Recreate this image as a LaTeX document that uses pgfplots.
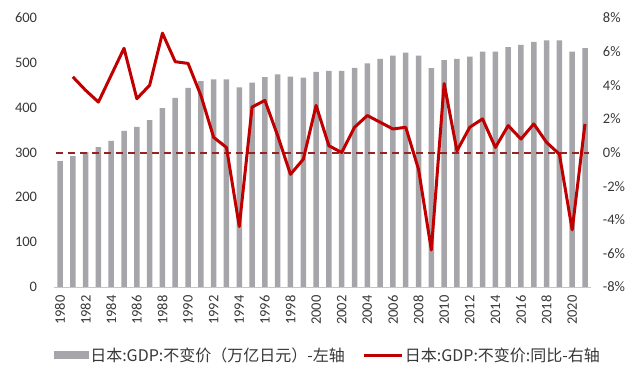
\documentclass[border=0pt]{standalone}
\usepackage{fontspec}
\setmainfont{Carlito}
\newfontfamily\cjk{Noto Sans CJK SC}
\usepackage{pgfplots}
\pgfplotsset{compat=1.18}
\definecolor{bargray}{RGB}{165,165,170}
\definecolor{linered}{RGB}{192,0,0}
\definecolor{dashred}{RGB}{150,35,35}
\definecolor{txt}{RGB}{55,55,55}
\begin{document}
\begin{tikzpicture}[x=1pt,y=1pt]
\path[use as bounding box] (0,0) rectangle (640,383);
\begin{axis}[
  at={(53.6pt,96pt)}, anchor=south west, scale only axis,
  width=537.8pt, height=269pt,
  xmin=1979.5, xmax=2021.5, ymin=0, ymax=600,
  ytick={0,100,...,600},
  xtick={1980,1982,...,2020},
  axis x line*=bottom, axis y line*=left,
  y axis line style={draw=none},
  x axis line style={draw=gray!45, line width=0.8pt},
  major tick length=0pt,
  /pgf/number format/assume math mode=true,
  /pgf/number format/1000 sep={},
  tick label style={font=\fontsize{14.5}{16}\selectfont, text=txt},
  x tick label style={rotate=90, anchor=east},
  xticklabel shift=5pt,
  yticklabel shift=13pt,
  legend columns=2,
  legend style={at={(axis description cs:0.0,-0.253)}, anchor=west,
    draw=none, fill=none, inner sep=0pt,
    font=\cjk\fontsize{16}{18}\selectfont, text=txt,
    nodes={inner sep=1.5pt},
    /tikz/every even column/.append style={column sep=16pt}},
]
\addplot[ybar, bar width=5.5pt, fill=bargray, draw=none,
  legend image code/.code={\fill[bargray] (0pt,-4pt) rectangle (35pt,4pt);}]
coordinates {
(1980,281) (1981,292) (1982,301) (1983,312) (1984,326) (1985,348)
(1986,357) (1987,372) (1988,399) (1989,422) (1990,444) (1991,459)
(1992,463) (1993,463) (1994,445) (1995,456) (1996,468) (1997,474)
(1998,469) (1999,467) (2000,480) (2001,482) (2002,482) (2003,489)
(2004,499) (2005,509) (2006,516) (2007,523) (2008,516) (2009,488)
(2010,506) (2011,509) (2012,514) (2013,525) (2014,525) (2015,535)
(2016,540) (2017,547) (2018,550) (2019,550) (2020,525) (2021,533)
};
\addlegendentry{日本:GDP:不变价（万亿日元）-左轴}
\addlegendimage{legend image code/.code={\draw[linered, line width=3pt] (0pt,0pt) -- (38pt,0pt);}}
\addlegendentry{日本:GDP:不变价:同比-右轴}
\end{axis}
\begin{axis}[
  at={(53.6pt,96pt)}, anchor=south west, scale only axis,
  width=537.8pt, height=269pt,
  xmin=1979.5, xmax=2021.5, ymin=-8, ymax=8,
  ytick={-8,-6,...,8},
  axis x line=none, axis y line*=right,
  y axis line style={draw=none},
  major tick length=0pt,
  /pgf/number format/assume math mode=true,
  tick label style={font=\fontsize{14.5}{16}\selectfont, text=txt},
  yticklabel={\pgfmathprintnumber{\tick}\%},
  yticklabel shift=8pt,
]
\addplot[dashred, line width=2pt, dash pattern=on 7pt off 5pt] coordinates {(1979.7,0) (2021.3,0)};
\addplot[linered, line width=3pt, line join=round] coordinates {
(1981,4.5) (1982,3.7) (1983,3.0) (1984,4.6) (1985,6.2) (1986,3.2)
(1987,4.0) (1988,7.1) (1989,5.4) (1990,5.3) (1991,3.4) (1992,0.9)
(1993,0.3) (1994,-4.4) (1995,2.7) (1996,3.1) (1997,1.0) (1998,-1.3)
(1999,-0.4) (2000,2.8) (2001,0.4) (2002,0.0) (2003,1.5) (2004,2.2)
(2005,1.8) (2006,1.4) (2007,1.5) (2008,-1.0) (2009,-5.8) (2010,4.1)
(2011,0.1) (2012,1.5) (2013,2.0) (2014,0.3) (2015,1.6) (2016,0.8)
(2017,1.7) (2018,0.6) (2019,-0.1) (2020,-4.6) (2021,1.7)
};
\end{axis}
\end{tikzpicture}
\end{document}
